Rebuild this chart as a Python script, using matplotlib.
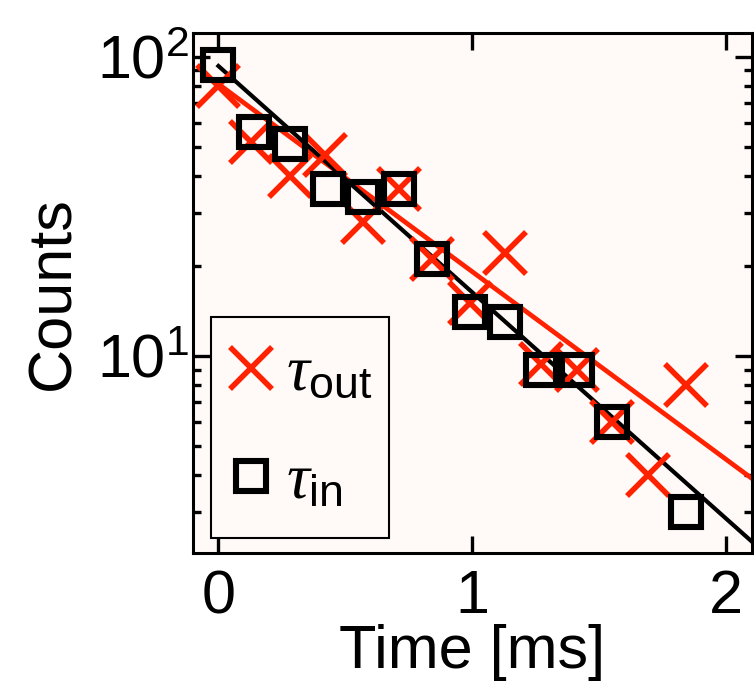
import matplotlib
matplotlib.use("Agg")
import matplotlib.pyplot as plt
from matplotlib.ticker import FixedLocator, LogLocator, NullFormatter

# photon counts vs. delay, two detection channels
t_out = [0.0, 0.13, 0.28, 0.42, 0.57, 0.71, 0.84, 0.99, 1.13, 1.27, 1.41, 1.55, 1.69, 1.84]
counts_out = [80, 52, 40, 47, 28, 36, 21, 15, 22, 9.4, 9, 6, 4, 8]

t_in = [0.0, 0.14, 0.28, 0.43, 0.57, 0.71, 0.84, 0.99, 1.13, 1.27, 1.41, 1.55, 1.84]
counts_in = [94, 56, 51, 36, 34, 36, 21, 14, 13, 9, 9, 6, 3]

# exponential fits (straight on log axes), end points
fit_t = [0.0, 2.1]
fit_out = [81, 3.9]
fit_in = [93, 2.4]

RED = "#ff2200"
FACE = "#fffaf8"

plt.rcParams.update({
    "font.family": ["Liberation Sans", "DejaVu Sans"],
    "mathtext.fontset": "custom",
    "mathtext.rm": "Liberation Sans",
    "mathtext.it": "Liberation Serif:italic",
    "mathtext.bf": "Liberation Sans:bold",
})

fig = plt.figure(figsize=(7.54, 6.85), dpi=100)
ax = fig.add_axes([0.256, 0.193, 0.741, 0.759])
ax.set_facecolor(FACE)

ax.plot(fit_t, fit_out, "-", color=RED, lw=3.4, zorder=2)
ax.plot(fit_t, fit_in, "-", color="black", lw=3.0, zorder=2)
ax.plot(t_out, counts_out, "x", color=RED, ms=30, mew=4.0, ls="none",
        label=r"$\tau_{\mathrm{out}}$", zorder=3)
ax.plot(t_in, counts_in, "s", mfc="none", mec="black", ms=21, mew=4.4, ls="none",
        label=r"$\tau_{\mathrm{in}}$", zorder=4)

ax.set_yscale("log")
ax.set_xlim(-0.1, 2.1)
ax.set_ylim(2.2, 120)
ax.xaxis.set_major_locator(FixedLocator([0, 1, 2]))
ax.yaxis.set_major_locator(LogLocator(base=10, numticks=5))
ax.yaxis.set_minor_locator(LogLocator(base=10, subs=range(2, 10), numticks=5))
ax.yaxis.set_minor_formatter(NullFormatter())

ax.tick_params(which="both", direction="in", top=True, right=True,
               width=2.4, labelsize=44)
ax.tick_params(which="major", length=12)
ax.tick_params(which="minor", length=6)
ax.tick_params(axis="x", pad=12)
ax.tick_params(axis="y", pad=3)
for s in ax.spines.values():
    s.set_linewidth(2.2)

ax.set_xlabel("Time [ms]", fontsize=44, labelpad=-2)
ax.set_ylabel("Counts", fontsize=44, labelpad=10)

leg = ax.legend(loc="lower left", bbox_to_anchor=(0.032, 0.028, 0.319, 0.429),
                mode="expand", borderaxespad=0, fontsize=46, numpoints=1,
                fancybox=False, framealpha=1, edgecolor="black",
                handlelength=0.4, handletextpad=0.36, labelspacing=0.75,
                borderpad=0.42)
leg.get_frame().set_linewidth(1.5)
leg.get_frame().set_facecolor(FACE)

fig.savefig("out.png", dpi=100)
